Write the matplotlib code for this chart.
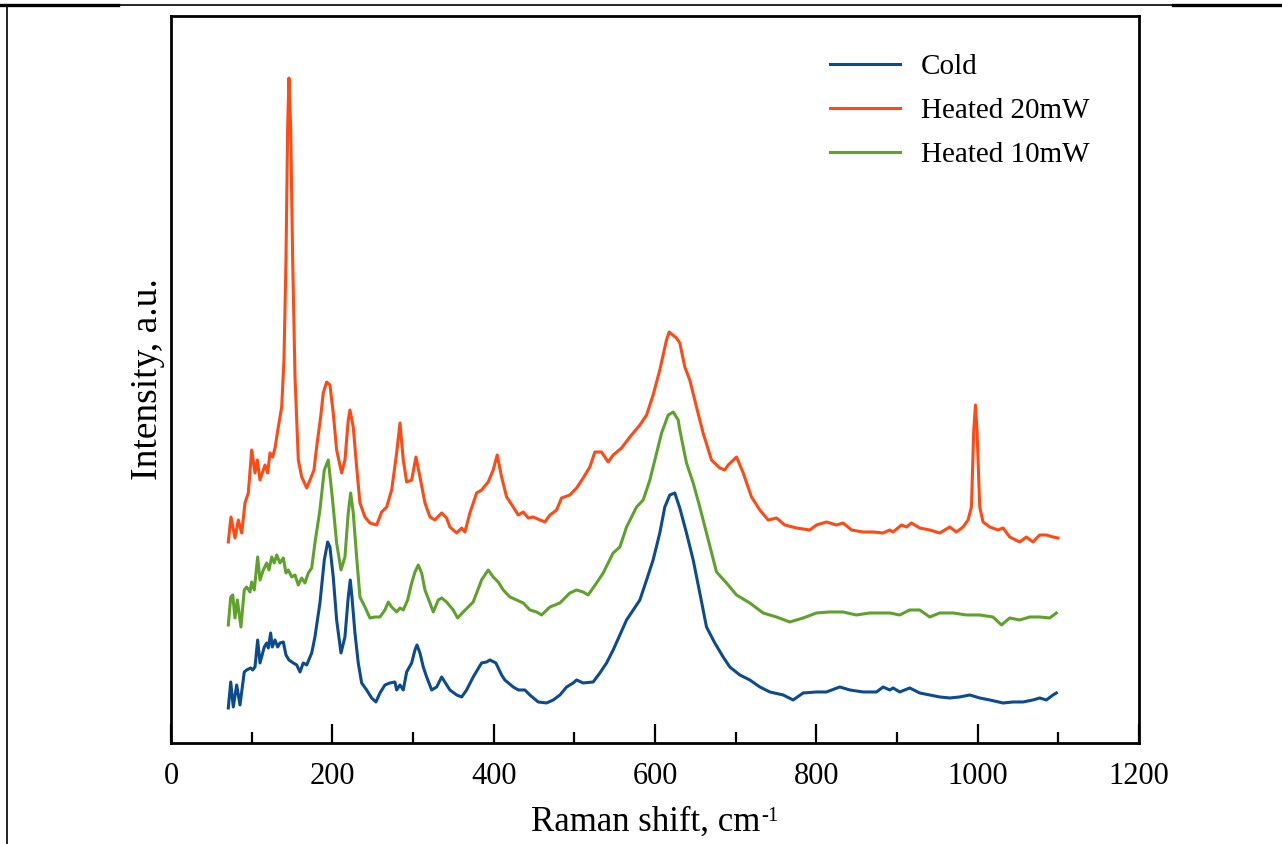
import matplotlib
matplotlib.use("Agg")
import matplotlib.pyplot as plt
from matplotlib.lines import Line2D
from matplotlib.ticker import MultipleLocator

plt.rcParams['font.family'] = ['Liberation Serif', 'DejaVu Serif']

# Raman spectra, intensity in arbitrary units
cold_x = [71, 74, 77.2, 81.4, 85.5, 90.8, 93.8, 98.8, 101.2, 104.1, 107.4, 110.3, 115.6, 118.6, 120.6,
          123.5, 125.5, 128.9, 132.2, 135.1, 139.2, 142.5, 146.2, 151.6, 155.8, 159.9, 163.9, 168.2,
          174.4, 178.4, 184.6, 190, 194.2, 197, 201.1, 205.3, 210.7, 215.6, 219.7, 222.2, 224.3, 228,
          232.1, 236.3, 242.5, 248.7, 254, 259, 265.2, 271.4, 277.6, 279.7, 283.8, 287.9, 292.1, 298.3,
          302.4, 304.9, 308.6, 312.7, 316.9, 323.1, 329.3, 335.5, 345.7, 354.1, 360.3, 366.4, 374.6,
          385, 391.2, 395.3, 402.7, 409.8, 413.8, 424.2, 430.6, 438.7, 444.8, 455.2, 465.5, 473.8,
          482.1, 490.4, 498.5, 502.8, 510.9, 523.3, 531.6, 539.9, 548.1, 556.4, 564.7, 572.9, 581.2,
          589.5, 597.6, 605.9, 612.1, 618.3, 624.5, 630.7, 639, 647.3, 655.5, 663.8, 674.1, 684.4,
          692.7, 705.1, 717.5, 729.9, 742.3, 758.8, 771.2, 783.6, 800.1, 812.5, 829, 841.4, 857.9,
          874.5, 882.7, 891, 895.1, 903.3, 915.7, 928.1, 940.5, 952.9, 965.3, 977.7, 990.1, 1002.5,
          1014.9, 1031.4, 1043.8, 1056.2, 1068.5, 1076.8, 1085.1, 1093.3, 1097.5]
cold_y = [35, 61, 36, 58, 38, 71, 73, 75, 73, 76, 103, 80, 96, 100, 95,
          110, 96, 103, 96, 100, 101, 88, 83, 80, 78, 71, 80, 78,
          90, 106, 140, 183, 201, 196, 166, 123, 90, 106, 146, 163, 146, 110,
          80, 60, 53, 45, 41, 50, 58, 60, 61, 53, 58, 53, 71, 80,
          93, 98, 90, 76, 66, 53, 56, 66, 53, 48, 46, 53, 66,
          80, 81, 83, 80, 68, 63, 56, 53, 53, 48, 41, 40, 43,
          48, 56, 60, 63, 60, 61, 70, 80, 93, 108, 123, 133, 143,
          163, 183, 210, 236, 248, 250, 235, 210, 183, 150, 116, 100, 86,
          76, 68, 63, 56, 51, 48, 43, 50, 51, 51, 56, 53, 51,
          51, 56, 53, 55, 51, 55, 50, 48, 46, 45, 46, 48, 45,
          43, 40, 41, 41, 43, 45, 43, 48, 50]

heated20_x = [71, 74.3, 79.3, 83.4, 87.6, 91.7, 95.8, 100, 104.1, 107, 110.3, 116.5, 119.8, 122.7,
              126, 128.9, 133, 137.2, 140, 142.5, 144.6, 146.2, 148.3, 150.8, 153.7, 157.8, 162,
              168.2, 172.3, 177.2, 180.5, 185.5, 188.7, 192.9, 197, 201.1, 205.3, 211.5, 215.6,
              219.7, 221.8, 225.9, 230.1, 234.2, 240.4, 246.6, 254.9, 261.1, 267.3, 273.5, 279.7,
              283.8, 287.9, 292.1, 298.3, 303.6, 308.6, 314.8, 321, 327.1, 335.5, 341.6, 345.7,
              354.1, 360.3, 364.3, 370.5, 378.8, 385, 393.2, 399.4, 404.3, 409.8, 416, 424.2, 430.4,
              436.6, 442.8, 449, 457.3, 463.5, 469.7, 478, 484.1, 494.4, 502.7, 510.9, 519.2, 525.4,
              533.7, 541.9, 548.1, 558.5, 568.8, 581.2, 589.5, 597.6, 605.9, 614.2, 617.5, 626.6,
              630.7, 636.9, 643.1, 651.4, 659.6, 670, 680.3, 686.5, 690.6, 701, 709.3, 719.6, 729.9,
              740.2, 750.5, 760.8, 775.3, 791.8, 800.1, 812.5, 824.9, 833.1, 843.5, 857.9, 870.2,
              882.7, 891, 895.1, 905.4, 911.6, 917.8, 928.1, 940.5, 952.9, 965.3, 973.6, 981.8, 988,
              992.2, 995.1, 997.2, 999.1, 1002.5, 1006.6, 1014.9, 1025.2, 1031.4, 1039.7, 1052.1,
              1060.3, 1068.5, 1076.8, 1085.1, 1093.3, 1099.5]
heated20_y = [201, 226, 205, 223, 210, 240, 250, 293, 270, 283, 263, 278, 270, 290,
              286, 295, 316, 336, 383, 483, 616, 665, 616, 483, 366, 283, 266,
              255, 263, 273, 296, 326, 350, 361, 358, 330, 293, 270, 283,
              323, 333, 316, 276, 240, 226, 220, 218, 231, 236, 253, 290,
              320, 283, 261, 263, 286, 266, 240, 226, 223, 230, 225, 216,
              210, 215, 211, 230, 250, 253, 261, 273, 288, 266, 246, 236, 228,
              231, 225, 226, 223, 221, 228, 233, 245, 248, 255, 265, 276, 291,
              291, 281, 288, 295, 306, 318, 328, 348, 373, 403, 411, 405,
              400, 376, 363, 336, 310, 283, 275, 273, 278, 286, 270, 246, 233,
              223, 225, 218, 215, 213, 218, 221, 218, 220, 213, 211, 211,
              210, 213, 211, 218, 216, 220, 215, 213, 210, 216, 211, 216, 223,
              236, 313, 338, 313, 236, 221, 216, 213, 215, 206, 201,
              206, 201, 208, 208, 206, 205]

heated10_x = [71, 74, 76.5, 79.3, 82.2, 86.7, 90.8, 93.8, 97.9, 100, 103.2, 107.4, 110.3, 114.4,
              118.6, 121.4, 124.8, 128, 131, 135.1, 139.2, 142.5, 145.4, 149.6, 153.7, 157.8, 162,
              166, 170.2, 174.4, 178.4, 184.6, 190, 194.9, 199.9, 205.3, 210.7, 215.6, 219.7, 222.7,
              225.9, 230.1, 234.2, 240.4, 246.6, 252.8, 259, 265.2, 269.3, 273.5, 279.7, 283.8,
              287.9, 293.3, 298.3, 302.4, 306.5, 310.7, 314.8, 321, 325.1, 331.3, 335.5, 341.6,
              349.8, 355.3, 362.2, 374.6, 385, 393.2, 399.4, 405.6, 411.8, 420.1, 428.4, 436.6,
              444.9, 453.2, 459.4, 469.7, 482.1, 494.4, 502.7, 510.9, 517.1, 527.5, 535.7, 541.9,
              548.1, 556.4, 564.7, 577.1, 585.3, 593.6, 601.9, 608.1, 616.3, 622.5, 628.7, 630.7,
              639, 647.3, 655.5, 663.8, 676.2, 688.6, 701, 717.5, 734, 750.5, 767, 783.6, 800.1,
              816.6, 833.1, 849.6, 866.2, 882.7, 891, 903.3, 915.7, 928.1, 940.5, 952.9, 969.5,
              986.1, 1002.5, 1019, 1029.4, 1039.7, 1052.1, 1064.5, 1076.8, 1089.2, 1097.5]
heated10_y = [118, 146, 148, 125, 143, 116, 153, 156, 151, 161, 153, 186, 163, 173,
              180, 173, 186, 180, 188, 180, 185, 170, 173, 166, 168, 158, 165,
              160, 170, 175, 200, 233, 273, 283, 246, 200, 173, 186, 230, 250,
              230, 186, 146, 136, 125, 126, 126, 133, 141, 136, 131, 135,
              133, 143, 160, 171, 178, 170, 153, 140, 131, 143, 145, 141,
              133, 125, 131, 141, 163, 173, 166, 161, 153, 146, 143, 140,
              133, 131, 128, 136, 140, 150, 153, 151, 148, 160, 170, 180,
              190, 196, 216, 236, 243, 263, 290, 310, 328, 331, 323, 313,
              280, 260, 236, 210, 171, 160, 148, 140, 130, 126, 121, 125, 130,
              131, 131, 128, 130, 130, 130, 128, 133, 133, 126, 130, 130,
              128, 128, 126, 118, 125, 123, 126, 126, 125, 130]

series = [
    ('Cold', cold_x, cold_y, '#0C4B8E'),
    ('Heated 20mW', heated20_x, heated20_y, '#FF4A14'),
    ('Heated 10mW', heated10_x, heated10_y, '#5EA22C'),
]

fig = plt.figure(figsize=(12.82, 8.44), dpi=100)
ax = fig.add_axes([0.1334, 0.1197, 0.7551, 0.8613])

for name, xs, ys, col in series:
    ax.plot(xs, ys, color=col, lw=2.2, label=name)

ax.set_xlim(0, 1200)
ax.set_ylim(0, 727)
ax.xaxis.set_major_locator(MultipleLocator(200))
ax.xaxis.set_minor_locator(MultipleLocator(100))
ax.tick_params(axis='x', which='major', direction='in', length=13.5, width=1.6,
               labelsize=22, pad=14, top=False)
ax.tick_params(axis='x', which='minor', direction='in', length=8, width=1.6, top=False)
ax.set_yticks([])
for sp in ax.spines.values():
    sp.set_linewidth(2.0)

ax.set_xlabel('Raman shift, cm', fontsize=25, labelpad=10)
ax.xaxis.label.set_x(0.5 - 9 / (0.7551 * 1282))
ax.set_ylabel('Intensity, a.u.', fontsize=27, labelpad=4)

ax.legend(loc='upper left', bbox_to_anchor=(0.681, 0.948), frameon=False, fontsize=21,
          handlelength=2.4, handletextpad=0.7, labelspacing=0.6, borderpad=0,
          borderaxespad=0)

# superscript "-1" after the x label
fig.canvas.draw()
lab = ax.xaxis.label.get_window_extent()
fig.text((lab.x1 + 1) / fig.bbox.width, (lab.y1 - 2) / fig.bbox.height, '-1',
         fontsize=15, ha='left', va='top')

# page rules around the figure
fig.add_artist(Line2D([0, 1], [0.9945, 0.9945], color='black', lw=1.2))
fig.add_artist(Line2D([0, 0.092], [0.9945, 0.9945], color='black', lw=2.4))
fig.add_artist(Line2D([0.915, 1], [0.9945, 0.9945], color='black', lw=2.4))
fig.add_artist(Line2D([0.0058, 0.0058], [0, 0.9945], color='black', lw=1.2))

fig.savefig('out.png', dpi=100)
